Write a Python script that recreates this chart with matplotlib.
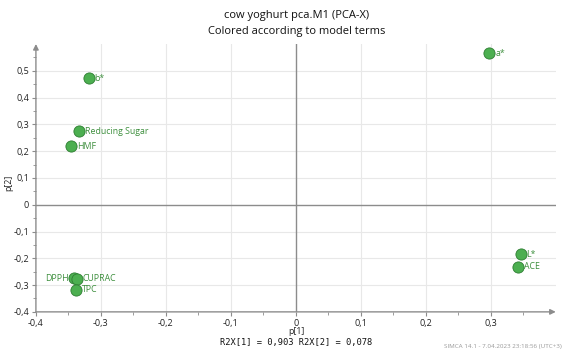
import numpy as np
import matplotlib.pyplot as plt

# loadings
names = ["a*", "b*", "Reducing Sugar", "HMF", "DPPH", "CUPRAC", "TPC", "L*", "ACE"]
p1 = [0.298, -0.319, -0.334, -0.346, -0.341, -0.337, -0.338, 0.346, 0.342]
p2 = [0.565, 0.473, 0.275, 0.218, -0.275, -0.276, -0.318, -0.185, -0.231]

xticks = [-0.4, -0.3, -0.2, -0.1, 0, 0.1, 0.2, 0.3]
yticks = [-0.4, -0.3, -0.2, -0.1, 0, 0.1, 0.2, 0.3, 0.4, 0.5]

plt.rcParams['font.family'] = ['Open Sans', 'DejaVu Sans']

fig = plt.figure(figsize=(5.7, 3.52), dpi=100)
ax = fig.add_axes([0.063, 0.114, 0.912, 0.761])
ax.set_xlim(-0.4, 0.4)
ax.set_ylim(-0.4, 0.6)

for s in ax.spines.values():
    s.set_visible(False)

# grid
for v in xticks[1:]:
    if v != 0:
        ax.axvline(v, color="#e8e8e8", lw=0.8, zorder=0)
for v in yticks[1:]:
    if v != 0:
        ax.axhline(v, color="#e8e8e8", lw=0.8, zorder=0)
ax.axvline(0, color="#8c8c8c", lw=1, zorder=1)
ax.axhline(0, color="#8c8c8c", lw=1, zorder=1)

# axis lines with arrows
ax.annotate("", xy=(1, 0), xytext=(0, 0), xycoords="axes fraction",
            arrowprops=dict(arrowstyle="-|>", color="#8c8c8c", lw=1,
                            mutation_scale=8, shrinkA=0, shrinkB=0))
ax.annotate("", xy=(0, 1), xytext=(0, 0), xycoords="axes fraction",
            arrowprops=dict(arrowstyle="-|>", color="#8c8c8c", lw=1,
                            mutation_scale=8, shrinkA=0, shrinkB=0))

ax.set_xticks(xticks)
ax.set_xticklabels([f"{t:g}".replace(".", ",") for t in xticks])
ax.set_yticks(yticks)
ax.set_yticklabels([f"{t:g}".replace(".", ",") for t in yticks])
ax.set_xticks(np.arange(-0.35, 0.4, 0.1), minor=True)
ax.set_yticks(np.arange(-0.35, 0.6, 0.1), minor=True)
ax.tick_params(which="major", length=3, width=0.8, color="#8c8c8c",
               labelsize=6.5, labelcolor="#222222", pad=2)
ax.tick_params(which="minor", length=2, width=0.6, color="#8c8c8c")

ax.scatter(p1, p2, s=65, color="#4caf50", edgecolors="#2e7d32",
           linewidths=0.6, zorder=3)
for n, x, y in zip(names, p1, p2):
    if n == "DPPH":
        ax.text(x - 0.009, y, n, fontsize=6.3, color="#3d8f3d",
                ha="right", va="center", zorder=4)
    else:
        ax.text(x + 0.009, y, n, fontsize=6.3, color="#3d8f3d",
                ha="left", va="center", zorder=4)

fig.text(0.52, 0.955, "cow yoghurt pca.M1 (PCA-X)", ha="center", va="center",
         fontsize=8, color="#111111")
fig.text(0.52, 0.91, "Colored according to model terms", ha="center",
         va="center", fontsize=8, color="#111111")

fig.text(0.52, 0.057, "p[1]", ha="center", va="center", fontsize=6.3,
         color="#222222")
fig.text(0.52, 0.027, "R2X[1] = 0,903 R2X[2] = 0,078", ha="center",
         va="center", fontsize=6.3, color="#111111",
         family="DejaVu Sans Mono")
fig.text(0.016, 0.48, "p[2]", ha="center", va="center", rotation=90,
         fontsize=6.3, color="#222222")
fig.text(0.985, 0.008, "SIMCA 14.1 - 7.04.2023 23:18:56 (UTC+3)",
         ha="right", va="bottom", fontsize=4.5, color="#999999")

fig.savefig("out.png", dpi=100)
